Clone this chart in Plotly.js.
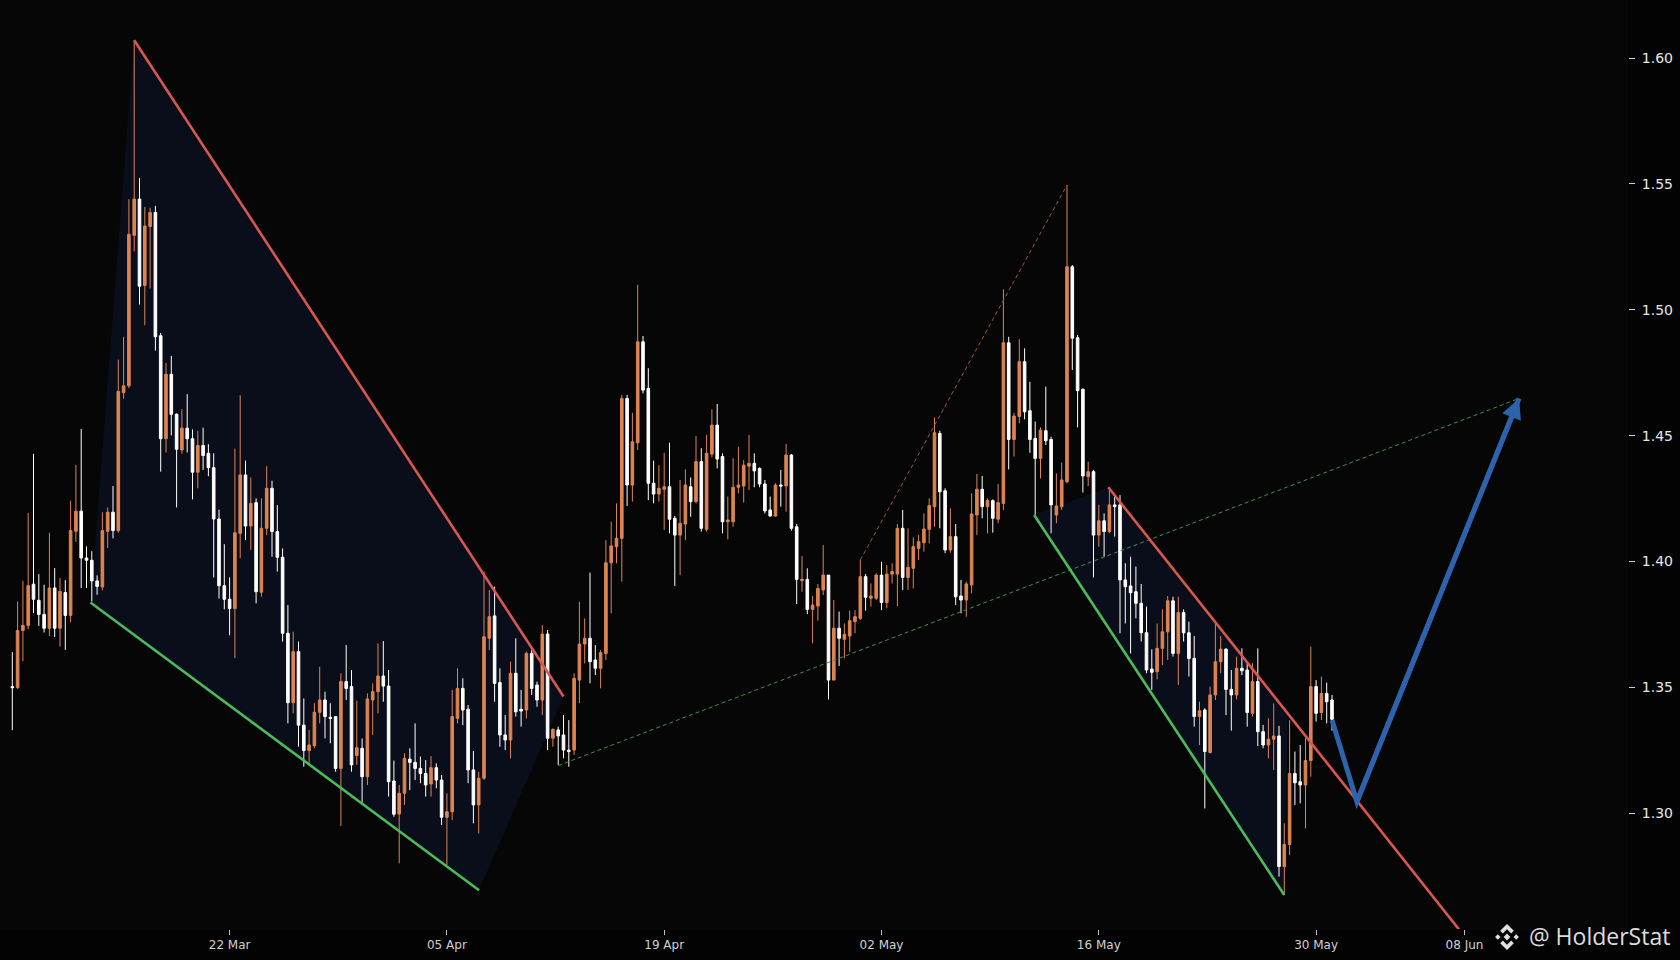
<!DOCTYPE html>
<html>
<head>
<meta charset="utf-8">
<script src="https://cdn.plot.ly/plotly-3.0.1.min.js"></script>
<style>
  html, body { margin: 0; padding: 0; background: #030303; }
  #chart { width: 1680px; height: 960px; }
</style>
</head>
<body>
<div id="chart"></div>
<script>
// ---------------- DATA ----------------
// 8-hour candles, first candle 9 Mar 00:00
const FIRST_CANDLE = '2023-03-09 00:00';
const CANDLE_HOURS = 8;

const OPEN = [
1.3503,1.3499,1.3726,1.3746,1.3910,1.3846,1.3790,1.3735,1.3895,1.3735,
1.3877,1.3786,1.4120,1.4200,1.4014,1.4005,1.3923,1.3899,1.4120,1.4196,
1.4123,1.4671,1.4698,1.5296,1.5440,1.5097,1.5331,1.5387,1.4897,1.4488,
1.4744,1.4585,1.4443,1.4530,1.4488,1.4355,1.4461,1.4430,1.4373,1.4169,
1.3904,1.3850,1.3813,1.4112,1.4344,1.4141,1.4234,1.3878,1.4132,1.4291,
1.4119,1.4017,1.3715,1.3439,1.3642,1.3350,1.3249,1.3268,1.3401,1.3450,
1.3381,1.3384,1.3178,1.3523,1.3503,1.3229,1.3258,1.3145,1.3450,1.3483,
1.3545,1.3505,1.3128,1.2997,1.3079,1.3215,1.3202,1.3178,1.3158,1.3116,
1.3181,1.3132,1.2984,1.3006,1.3377,1.3496,1.3413,1.3172,1.3033,1.3139,
1.3695,1.3784,1.3519,1.3311,1.3291,1.3556,1.3413,1.3410,1.3635,1.3509,
1.3450,1.3712,1.3298,1.3331,1.3311,1.3251,1.3251,1.3529,1.3672,1.3695,
1.3609,1.3576,1.3635,1.3995,1.4059,1.4092,1.4648,1.4304,1.4472,1.4873,
1.4688,1.4311,1.4268,1.4287,1.4297,1.4172,1.4105,1.4149,1.4297,1.4238,
1.4397,1.4128,1.4427,1.4542,1.4417,1.4158,1.4158,1.4295,1.4300,1.4379,
1.4390,1.4370,1.4308,1.4205,1.4181,1.4304,1.4300,1.4423,1.4138,1.3924,
1.3929,1.3810,1.3823,1.3887,1.3946,1.3529,1.3735,1.3691,1.3704,1.3761,
1.3774,1.3940,1.3854,1.3854,1.3946,1.3837,1.3950,1.3950,1.4132,1.3937,
1.3973,1.4052,1.4075,1.4128,1.4218,1.4509,1.4281,1.4046,1.4099,1.3863,
1.3847,1.3907,1.4185,1.4287,1.4218,1.4242,1.4168,1.4231,1.4869,1.4485,
1.4576,1.4794,1.4599,1.4489,1.4410,1.4520,1.4485,1.4185,1.4218,1.4317,
1.5171,1.4889,1.4684,1.4337,1.4357,1.4105,1.4162,1.4119,1.4225,1.4225,
1.3927,1.3903,1.3880,1.3834,1.3717,1.3573,1.3562,1.3655,1.3721,1.3844,
1.3635,1.3797,1.3717,1.3615,1.3384,1.3410,1.3241,1.3470,1.3602,1.3652,
1.3492,1.3470,1.3576,1.3569,1.3397,1.3523,1.3324,1.3271,1.3294,1.3307,
1.2788,1.2876,1.3158,1.3125,1.3112,1.3209,1.3503,1.3400,1.3476,1.3450
];
const HIGH = [
1.3640,1.3841,1.3923,1.4193,1.4428,1.3950,1.3908,1.4114,1.3974,1.3935,
1.3926,1.4242,1.4384,1.4527,1.4060,1.4041,1.3945,1.4196,1.4215,1.4300,
1.4802,1.4893,1.5440,1.6071,1.5524,1.5409,1.5406,1.5413,1.4908,1.4789,
1.4817,1.4589,1.4605,1.4665,1.4525,1.4519,1.4532,1.4466,1.4430,1.4206,
1.4069,1.3937,1.4448,1.4661,1.4401,1.4334,1.4251,1.4251,1.4379,1.4321,
1.4224,1.4052,1.3827,1.3721,1.3682,1.3456,1.3331,1.3437,1.3582,1.3483,
1.3437,1.3384,1.3556,1.3668,1.3569,1.3447,1.3297,1.3476,1.3516,1.3675,
1.3684,1.3569,1.3209,1.3112,1.3238,1.3258,1.3357,1.3225,1.3211,1.3227,
1.3198,1.3152,1.3079,1.3490,1.3576,1.3536,1.3430,1.3247,1.3165,1.3960,
1.3887,1.3900,1.3576,1.3390,1.3602,1.3695,1.3490,1.3642,1.3648,1.3523,
1.3748,1.3728,1.3337,1.3344,1.3390,1.3370,1.3556,1.3840,1.3774,1.3956,
1.3668,1.3648,1.4085,1.4158,1.4231,1.4662,1.4662,1.4591,1.5099,1.4896,
1.4768,1.4401,1.4383,1.4432,1.4472,1.4181,1.4324,1.4366,1.4334,1.4499,
1.4450,1.4503,1.4605,1.4626,1.4430,1.4258,1.4410,1.4456,1.4403,1.4503,
1.4430,1.4374,1.4324,1.4258,1.4311,1.4364,1.4467,1.4427,1.4149,1.4022,
1.3973,1.3863,1.3911,1.4066,1.3946,1.3847,1.3801,1.3754,1.3805,1.3807,
1.4006,1.3950,1.3913,1.3953,1.3999,1.3986,1.3993,1.4149,1.4205,1.4132,
1.4096,1.4105,1.4191,1.4251,1.4573,1.4520,1.4291,1.4211,1.4149,1.3927,
1.3920,1.4271,1.4348,1.4340,1.4251,1.4247,1.4308,1.5081,1.4893,1.4591,
1.4883,1.4847,1.4714,1.4556,1.4533,1.4695,1.4496,1.4350,1.4393,1.5496,
1.5178,1.4900,1.4688,1.4397,1.4364,1.4225,1.4191,1.4291,1.4258,1.4264,
1.3993,1.4019,1.3980,1.3911,1.3821,1.3651,1.3754,1.3810,1.3863,1.3860,
1.3860,1.3810,1.3761,1.3704,1.3443,1.3417,1.3503,1.3752,1.3704,1.3655,
1.3569,1.3622,1.3655,1.3596,1.3596,1.3655,1.3351,1.3377,1.3436,1.3347,
1.2960,1.3370,1.3245,1.3271,1.3298,1.3662,1.3529,1.3543,1.3519,1.3470
];
const LOW = [
1.3330,1.3494,1.3604,1.3731,1.3795,1.3744,1.3718,1.3704,1.3700,1.3662,
1.3649,1.3759,1.4078,1.3895,1.3895,1.3841,1.3868,1.3886,1.4054,1.4092,
1.4114,1.4647,1.4689,1.5232,1.5021,1.4939,1.5085,1.4838,1.4357,1.4433,
1.4501,1.4215,1.4428,1.4433,1.4247,1.4291,1.4364,1.4339,1.3937,1.3853,
1.3810,1.3707,1.3616,1.4013,1.4085,1.4046,1.3834,1.3860,1.4105,1.4019,
1.3960,1.3682,1.3357,1.3397,1.3264,1.3185,1.3198,1.3258,1.3357,1.3297,
1.3278,1.3165,1.2949,1.3450,1.3165,1.3192,1.3042,1.3112,1.3311,1.3397,
1.3443,1.3066,1.2986,1.2801,1.3033,1.3092,1.3132,1.3119,1.3066,1.3066,
1.3099,1.2953,1.2794,1.2973,1.3357,1.3350,1.3119,1.2960,1.2920,1.3132,
1.3648,1.3443,1.3264,1.3251,1.3218,1.3384,1.3344,1.3377,1.3470,1.3423,
1.3390,1.3251,1.3264,1.3192,1.3218,1.3185,1.3231,1.3437,1.3595,1.3516,
1.3549,1.3496,1.3609,1.3794,1.3993,1.3920,1.4221,1.4238,1.4443,1.4668,
1.4244,1.4231,1.4238,1.4125,1.4112,1.3903,1.3946,1.4085,1.4178,1.4231,
1.4119,1.4119,1.4414,1.4370,1.4112,1.4088,1.4138,1.4271,1.4234,1.4284,
1.4295,1.4295,1.4191,1.4178,1.4178,1.4218,1.4198,1.4123,1.3831,1.3880,
1.3791,1.3675,1.3765,1.3867,1.3452,1.3529,1.3585,1.3615,1.3642,1.3715,
1.3768,1.3805,1.3821,1.3847,1.3807,1.3814,1.3913,1.3823,1.3887,1.3887,
1.3893,1.4006,1.4039,1.4072,1.4138,1.4132,1.4033,1.4035,1.3827,1.3794,
1.3781,1.3874,1.4105,1.4172,1.4112,1.4115,1.4152,1.4205,1.4366,1.4417,
1.4549,1.4565,1.4432,1.4185,1.4330,1.4463,1.4112,1.4152,1.4205,1.4311,
1.4761,1.4533,1.4274,1.4300,1.3937,1.4059,1.4019,1.4112,1.4099,1.3715,
1.3754,1.3635,1.3774,1.3682,1.3556,1.3490,1.3532,1.3589,1.3609,1.3622,
1.3509,1.3682,1.3543,1.3344,1.3271,1.3019,1.3238,1.3450,1.3556,1.3390,
1.3328,1.3452,1.3549,1.3344,1.3384,1.3267,1.3258,1.3218,1.3172,1.2748,
1.2682,1.2834,1.3033,1.3039,1.2940,1.3145,1.3364,1.3370,1.3357,1.3328
];
const CLOSE = [
1.3499,1.3726,1.3746,1.3904,1.3850,1.3790,1.3735,1.3895,1.3735,1.3881,
1.3786,1.4123,1.4200,1.4014,1.4005,1.3923,1.3901,1.4123,1.4196,1.4123,
1.4676,1.4698,1.5300,1.5440,1.5094,1.5333,1.5387,1.4893,1.4488,1.4744,
1.4585,1.4446,1.4530,1.4488,1.4355,1.4461,1.4421,1.4373,1.4169,1.3904,
1.3850,1.3813,1.4114,1.4344,1.4141,1.4231,1.3880,1.4132,1.4291,1.4119,
1.4017,1.3715,1.3439,1.3642,1.3350,1.3249,1.3271,1.3401,1.3450,1.3384,
1.3377,1.3178,1.3523,1.3496,1.3192,1.3260,1.3145,1.3454,1.3483,1.3545,
1.3505,1.3125,1.2996,1.3079,1.3218,1.3202,1.3178,1.3158,1.3112,1.3181,
1.3132,1.2984,1.3006,1.3384,1.3496,1.3410,1.3172,1.3033,1.3139,1.3701,
1.3781,1.3516,1.3311,1.3291,1.3556,1.3403,1.3406,1.3635,1.3496,1.3450,
1.3712,1.3298,1.3333,1.3307,1.3251,1.3245,1.3536,1.3672,1.3695,1.3602,
1.3576,1.3638,1.3995,1.4062,1.4092,1.4648,1.4304,1.4476,1.4873,1.4681,
1.4311,1.4268,1.4291,1.4297,1.4168,1.4105,1.4152,1.4304,1.4238,1.4397,
1.4132,1.4430,1.4542,1.4407,1.4158,1.4165,1.4295,1.4304,1.4383,1.4390,
1.4360,1.4308,1.4201,1.4181,1.4304,1.4300,1.4423,1.4132,1.3929,1.3929,
1.3810,1.3827,1.3893,1.3946,1.3529,1.3735,1.3695,1.3711,1.3765,1.3781,
1.3940,1.3858,1.3863,1.3946,1.3837,1.3950,1.3960,1.4132,1.3937,1.3977,
1.4059,1.4079,1.4129,1.4222,1.4512,1.4277,1.4046,1.4099,1.3860,1.3847,
1.3911,1.4189,1.4287,1.4218,1.4242,1.4172,1.4234,1.4869,1.4485,1.4578,
1.4794,1.4595,1.4485,1.4410,1.4522,1.4480,1.4225,1.4221,1.4324,1.5171,
1.4887,1.4679,1.4340,1.4357,1.4105,1.4162,1.4119,1.4225,1.4218,1.3927,
1.3900,1.3876,1.3834,1.3717,1.3569,1.3560,1.3655,1.3721,1.3844,1.3635,
1.3797,1.3717,1.3615,1.3384,1.3407,1.3245,1.3470,1.3602,1.3652,1.3492,
1.3470,1.3576,1.3566,1.3400,1.3523,1.3324,1.3271,1.3294,1.3307,1.2788,
1.2876,1.3158,1.3121,1.3112,1.3209,1.3503,1.3397,1.3476,1.3443,1.3373
];

const X_TICKS = ['2023-03-22 16:00','2023-04-05 08:00','2023-04-19 00:00',
                 '2023-05-02 16:00','2023-05-16 08:00','2023-05-30 00:00','2023-06-08 08:00'];
const Y_TICKS = [1.30, 1.35, 1.40, 1.45, 1.50, 1.55, 1.60];
const X_RANGE = ['2023-03-08 05:26', '2023-06-18 14:48'];
const Y_RANGE = [1.2540, 1.6231];

// drawn annotations (date, price)
const WEDGE_1 = [['2023-03-13 22:00',1.3837],['2023-03-16 16:00',1.6071],['2023-04-12 16:00',1.3464],['2023-04-07 08:30',1.2694]];
const RED_LINE_1 = [['2023-03-16 16:00',1.6071],['2023-04-12 16:00',1.3464]];
const GREEN_LINE_1 = [['2023-03-13 22:00',1.3837],['2023-04-07 08:30',1.2694]];
const GREEN_DASH = [['2023-04-12 08:00',1.3189],['2023-06-11 18:24',1.4648]];
const RED_DASH = [['2023-05-01 08:00',1.4006],['2023-05-14 08:00',1.5496]];
const WEDGE_2 = [['2023-05-12 06:24',1.4185],['2023-05-16 22:24',1.4295],['2023-05-28 05:00',1.3394],['2023-05-28 00:00',1.2675]];
const GREEN_LINE_2 = [['2023-05-12 06:24',1.4185],['2023-05-28 00:00',1.2675]];
const RED_LINE_2 = [['2023-05-16 22:24',1.4295],['2023-06-08 04:00',1.2524]];
const BLUE_PATH = [['2023-05-31 00:00',1.3370],['2023-06-01 13:36',1.3046],['2023-06-11 18:24',1.4648]];

// ---------------- STYLE ----------------
const UP = '#dd8452', DOWN = '#ffffff';
const RED = '#d9574f', GREEN = '#4cbb5c', BLUE = '#2d62ad', FILL = '#0a0e1a';
const PLOT_W = 1628, PLOT_H = 929;

function pad(n){ return String(n).padStart(2,'0'); }
function fmt(ms){
  const d = new Date(ms);
  return d.getUTCFullYear()+'-'+pad(d.getUTCMonth()+1)+'-'+pad(d.getUTCDate())+' '+pad(d.getUTCHours())+':'+pad(d.getUTCMinutes());
}
const t0 = Date.parse(FIRST_CANDLE.replace(' ','T')+':00Z');
const TIMES = OPEN.map((_, i) => fmt(t0 + i*CANDLE_HOURS*3600e3));

const pd = s => s.replace(' ','_');
function polyPath(pts, close){
  return pts.map((p,i)=>(i?'L':'M')+pd(p[0])+','+p[1]).join(' ')+(close?' Z':'');
}
function lineShape(pts, color, width, dash){
  return {type:'line', xref:'x', yref:'y', x0:pts[0][0], y0:pts[0][1], x1:pts[1][0], y1:pts[1][1],
          line:{color:color, width:width, dash:dash||'solid'}, layer:'above'};
}
// pixel -> paper helpers for the watermark logo
const PX = x => x/PLOT_W, PY = y => 1 - y/PLOT_H;
function logoPath(pts){ return pts.map((p,i)=>(i?'L':'M')+PX(p[0])+','+PY(p[1])).join(' ')+' Z'; }
const LC = [1507, 937];
const lp = arr => arr.map(p => [LC[0]+p[0], LC[1]+p[1]]);
const logoParts = [
  [[0,-3.4],[3.4,0],[0,3.4],[-3.4,0]],
  [[-9.2,-2.7],[-6.5,0],[-9.2,2.7],[-11.9,0]],
  [[9.2,-2.7],[11.9,0],[9.2,2.7],[6.5,0]],
  [[0,-13],[6.8,-6.2],[4.2,-3.6],[0,-7.8],[-4.2,-3.6],[-6.8,-6.2]],
  [[0,13],[6.8,6.2],[4.2,3.6],[0,7.8],[-4.2,3.6],[-6.8,6.2]]
];

const shapes = [
  {type:'path', xref:'x', yref:'y', path: polyPath(WEDGE_1, true), fillcolor:FILL, line:{width:0}, layer:'below'},
  {type:'path', xref:'x', yref:'y', path: polyPath(WEDGE_2, true), fillcolor:FILL, line:{width:0}, layer:'below'},
  lineShape(GREEN_DASH, '#3f8f4c', 1, '4px,3px'),
  lineShape(RED_DASH, '#a0503f', 1, '4px,3px'),
  lineShape(RED_LINE_1, RED, 2.6),
  lineShape(GREEN_LINE_1, GREEN, 2.6),
  lineShape(GREEN_LINE_2, GREEN, 2.6),
  lineShape(RED_LINE_2, RED, 2.6),
  {type:'path', xref:'x', yref:'y', path: polyPath(BLUE_PATH, false), line:{color:BLUE, width:5}, layer:'above'}
];
logoParts.forEach(pts => shapes.push({type:'path', xref:'paper', yref:'paper', path: logoPath(lp(pts)),
  fillcolor:'#e0e0e0', line:{width:0}}));

const trace = {
  type:'candlestick', x:TIMES, open:OPEN, high:HIGH, low:LOW, close:CLOSE,
  increasing:{line:{color:UP, width:1}, fillcolor:UP},
  decreasing:{line:{color:DOWN, width:1}, fillcolor:DOWN},
  whiskerwidth:0, hoverinfo:'skip', showlegend:false
};

const layout = {
  width:1680, height:960,
  margin:{l:0, r:52, t:0, b:31},
  paper_bgcolor:'#030303', plot_bgcolor:'#060606',
  showlegend:false, boxgap:0.3,
  font:{family:'DejaVu Sans', color:'#d8d8d8'},
  xaxis:{type:'date', range:X_RANGE, rangeslider:{visible:false},
         tickvals:X_TICKS, tickformat:'%d %b', ticks:'outside', ticklen:5, tickcolor:'#bfbfbf',
         tickfont:{family:'DejaVu Sans', size:12, color:'#d0d0d0'},
         showgrid:false, zeroline:false, showline:false, fixedrange:true},
  yaxis:{side:'right', range:Y_RANGE, tickvals:Y_TICKS, tickformat:'.2f', ticks:'outside', ticklen:6,
         tickcolor:'#d0d0d0', ticklabelstandoff:4,
         tickfont:{family:'DejaVu Sans', size:14, color:'#e6e6e6'},
         showgrid:false, zeroline:false, showline:false, fixedrange:true},
  shapes: shapes,
  annotations:[
    {x:BLUE_PATH[2][0], y:BLUE_PATH[2][1], ax:BLUE_PATH[1][0], ay:BLUE_PATH[1][1],
     xref:'x', yref:'y', axref:'x', ayref:'y', showarrow:true, text:'',
     arrowhead:2, arrowsize:0.8, arrowwidth:5, arrowcolor:BLUE},
    {x:PX(1672), y:PY(936), xref:'paper', yref:'paper', xanchor:'right', yanchor:'middle',
     text:'@ HolderStat', showarrow:false, font:{family:'Open Sans', size:23, color:'#dcdcdc'}}
  ]
};

Plotly.newPlot('chart', [trace], layout, {staticPlot:true, displayModeBar:false});
</script>
</body>
</html>
